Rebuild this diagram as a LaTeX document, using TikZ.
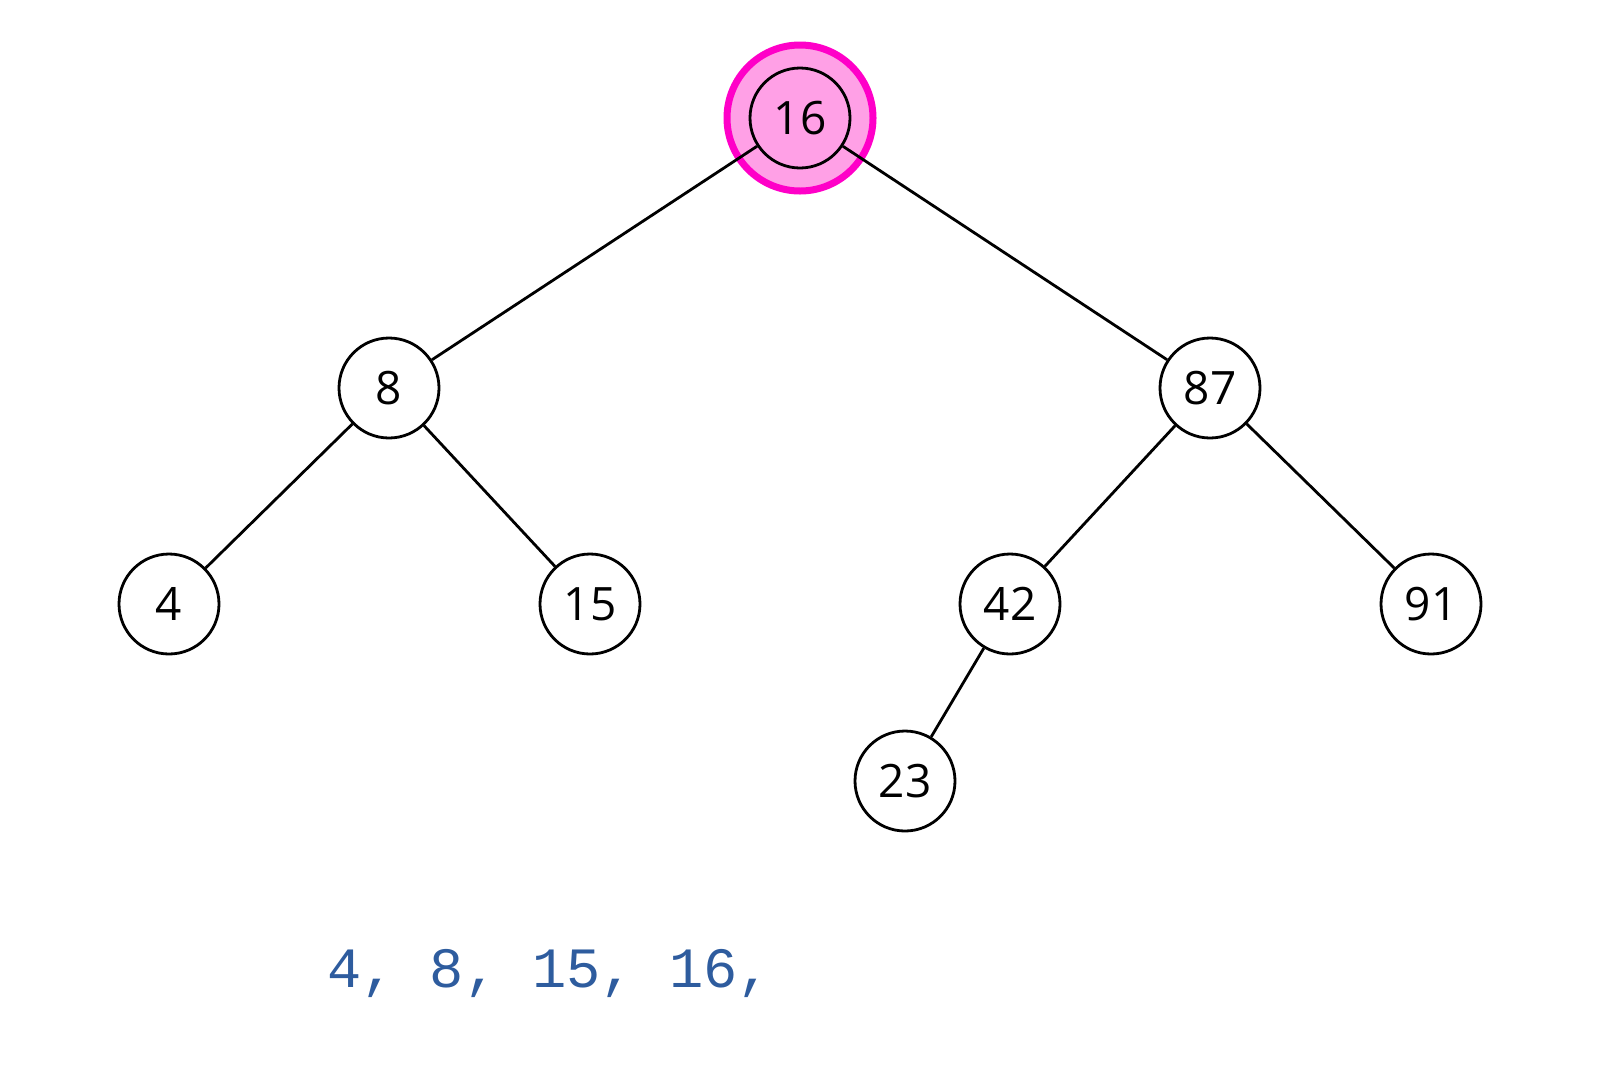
\documentclass[tikz,border=0pt]{standalone}
\usepackage{fontspec}
\setmonofont{Liberation Mono}
\setsansfont{Open Sans}
\definecolor{rootfill}{HTML}{FFA0E6}
\definecolor{rootring}{HTML}{FF00C8}
\definecolor{seqblue}{HTML}{2E5C9E}
\begin{document}
\begin{tikzpicture}[x=1pt,y=-1pt,
  treenode/.style={circle,draw=black,line width=2.8pt,fill=white,minimum size=100pt,inner sep=0pt,font=\sffamily\fontsize{46}{46}\selectfont},
  edge/.style={draw=black,line width=2.8pt}]
\useasboundingbox (0,0) rectangle (1600,1080);
\node[circle,draw=rootring,fill=rootfill,line width=7pt,minimum size=146pt,inner sep=0pt] (halo) at (800,118) {};
\node[treenode,fill=rootfill] (n16) at (800,118) {16};
\node[treenode] (n8) at (389,388) {8};
\node[treenode] (n87) at (1210,388) {87};
\node[treenode] (n4) at (169,604) {4};
\node[treenode] (n15) at (590,604) {15};
\node[treenode] (n42) at (1010,604) {42};
\node[treenode] (n91) at (1431,604) {91};
\node[treenode] (n23) at (905,781) {23};
\draw[edge] (n16) -- (n8);
\draw[edge] (n16) -- (n87);
\draw[edge] (n8) -- (n4);
\draw[edge] (n8) -- (n15);
\draw[edge] (n87) -- (n42);
\draw[edge] (n87) -- (n91);
\draw[edge] (n42) -- (n23);
\node[anchor=base west,inner sep=0pt,text=seqblue,font=\ttfamily\fontsize{57}{57}\selectfont] (seq) at (327,987) {4, 8, 15, 16,};
\end{tikzpicture}
\end{document}
